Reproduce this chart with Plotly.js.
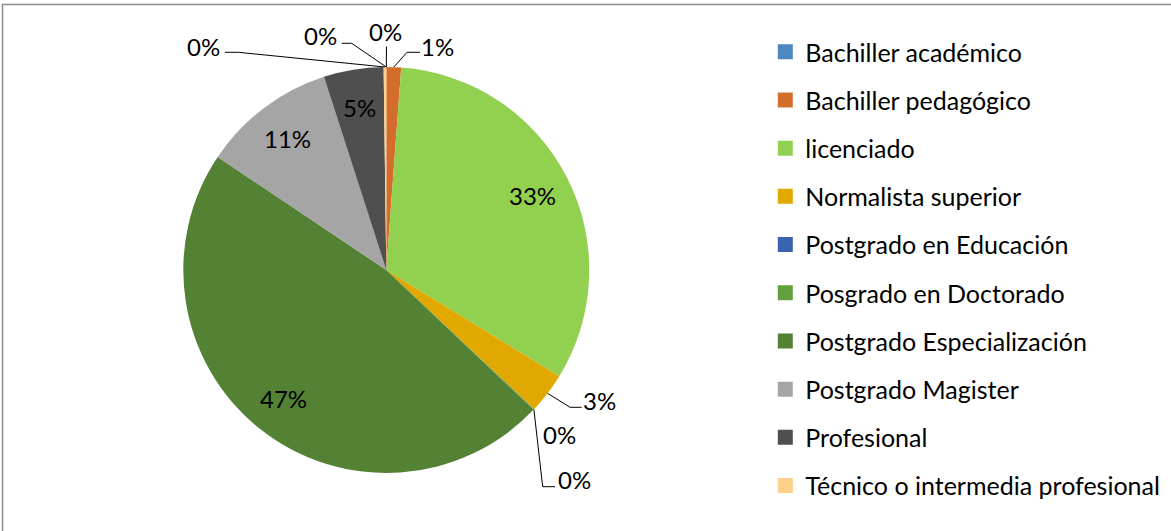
<!DOCTYPE html>
<html><head><meta charset="utf-8">
<script src="https://cdn.plot.ly/plotly-3.0.1.min.js"></script>
<style>html,body{margin:0;padding:0;background:#fff}#chart{width:1171px;height:531px}</style>
</head><body><div id="chart"></div>
<script>
// ---- data ----
const categories = ['Bachiller académico','Bachiller pedagógico','licenciado','Normalista superior','Postgrado en Educación','Posgrado en Doctorado','Postgrado Especialización','Postgrado Magister','Profesional','Técnico o intermedia profesional',''];
const values = [0, 1.17, 32.59, 3.26, 0, 0.05, 47.33, 10.63, 4.76, 0.21, 0];

// ---- styles / layout ----
const colors = ['#4E86C2','#D46D2B','#92D050','#E1A900','#3A63AF','#63A03D','#548235','#A5A5A5','#4F4F4F','#FFD08A','#FFD08A'];
const W = 1171, H = 531;
const FONT = 'Lato, "Open Sans", sans-serif';
const FS = 24;
const LEG_FS = 25;
const pieGeom = {cx: 386.3, cy: 270, r: 203};
const insideFactor = 0.81;
const insideIdx = [2, 6, 7, 8];
const outsideLabels = {
  0:  {x: 385,   y: 31,  leader: [[386.5, 46.5]]},
  1:  {x: 437.5, y: 46,  leader: [[420, 52.3], [407, 52.3]]},
  3:  {x: 599,   y: 400, leader: [[581.7, 407.3], [570, 407.3]]},
  4:  {x: 559,   y: 434, leader: null},
  5:  {x: 574,   y: 479, leader: [[555, 486.7], [542.7, 486.7]]},
  9:  {x: 203.5, y: 46,  leader: [[225, 52.3], [238.3, 52.3]]},
  10: {x: 320,   y: 35,  leader: [[341.7, 43.3], [351.7, 43.3]]}
};

const total = values.reduce((a, b) => a + b, 0);
const mids = [];
let cum = 0;
values.forEach(v => { mids.push((cum + v / 2) / total * 2 * Math.PI); cum += v; });
function polar(i, f) {
  const a = mids[i];
  return [pieGeom.cx + f * pieGeom.r * Math.sin(a), pieGeom.cy - f * pieGeom.r * Math.cos(a)];
}
const pct = i => Math.round(values[i] / total * 100) + '%';

const traces = [{
  type: 'pie',
  labels: categories.map((c, i) => c || ('sin dato ' + i)),
  values: values,
  sort: false,
  direction: 'clockwise',
  rotation: 0,
  textinfo: 'none',
  hoverinfo: 'label+percent',
  showlegend: false,
  marker: {colors: colors, line: {width: 0}},
  domain: {
    x: [(pieGeom.cx - pieGeom.r) / W, (pieGeom.cx + pieGeom.r) / W],
    y: [1 - (pieGeom.cy + pieGeom.r) / H, 1 - (pieGeom.cy - pieGeom.r) / H]
  }
}];
categories.forEach((c, i) => {
  if (!c) return;
  traces.push({
    type: 'scatter', x: [null], y: [null], mode: 'markers', name: c,
    legendgroup: 'g' + i, hoverinfo: 'skip',
    marker: {symbol: 'square', size: 15, color: colors[i]}
  });
});

const annotations = [];
const shapes = [];
insideIdx.forEach(i => {
  const p = polar(i, insideFactor);
  annotations.push({x: p[0], y: p[1], xref: 'x', yref: 'y', text: pct(i), showarrow: false,
    xanchor: 'center', yanchor: 'middle', font: {family: FONT, size: FS, color: '#000'}});
});
Object.keys(outsideLabels).forEach(k => {
  const i = +k, L = outsideLabels[k];
  annotations.push({x: L.x, y: L.y, xref: 'x', yref: 'y', text: pct(i), showarrow: false,
    xanchor: 'center', yanchor: 'middle', font: {family: FONT, size: FS, color: '#000'}});
  if (L.leader) {
    const e = polar(i, 1);
    const pts = L.leader.concat([e]);
    shapes.push({type: 'path', xref: 'x', yref: 'y',
      path: 'M' + pts.map(p => p[0] + ',' + p[1]).join(' L'),
      line: {color: '#000', width: 1}});
  }
});
shapes.push({type: 'rect', xref: 'x', yref: 'y', x0: 2.5, y0: 4.5, x1: 1200, y1: 560,
  line: {color: '#8c8c8c', width: 1.5}, layer: 'above'});

const layout = {
  width: W, height: H,
  margin: {l: 0, r: 0, t: 0, b: 0},
  paper_bgcolor: '#fff', plot_bgcolor: 'rgba(0,0,0,0)',
  xaxis: {range: [0, W], visible: false, fixedrange: true},
  yaxis: {range: [H, 0], visible: false, fixedrange: true},
  showlegend: true,
  legend: {x: 765.3 / W, y: 1 - 29 / H, xanchor: 'left', yanchor: 'top',
    font: {family: FONT, size: LEG_FS, color: '#000'}, tracegroupgap: 12.7,
    bgcolor: 'rgba(0,0,0,0)'},
  annotations: annotations,
  shapes: shapes,
  hovermode: false
};
Plotly.newPlot('chart', traces, layout, {displayModeBar: false, staticPlot: true});
</script></body></html>
